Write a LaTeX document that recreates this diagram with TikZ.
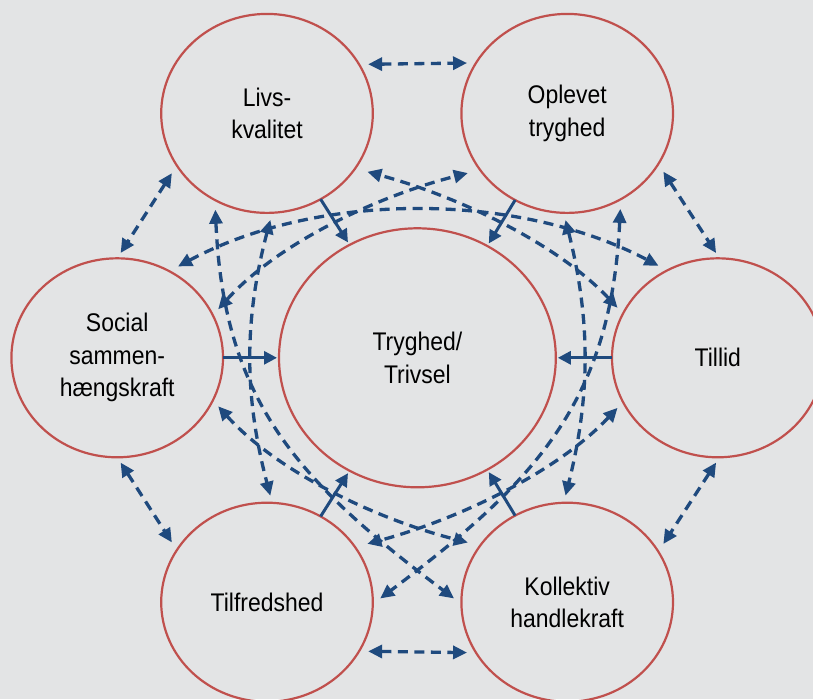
\documentclass[tikz,border=0pt]{standalone}
\usepackage{fontspec}
\newfontfamily\labfont[FakeStretch=0.9]{Liberation Sans}
\usetikzlibrary{arrows.meta,shapes.geometric}
\definecolor{bg}{HTML}{E3E4E5}
\definecolor{cred}{HTML}{C0504D}
\definecolor{cblue}{HTML}{1F4A7E}
\tikzset{
  bubble/.style={ellipse, draw=cred, line width=2.2pt, minimum width=211.6pt, minimum height=199pt,
    inner sep=0pt, outer sep=0pt, align=center, text=black,
    font=\labfont\fontsize{25.5}{32.5}\selectfont},
  bigbubble/.style={bubble, minimum width=276.8pt, minimum height=259pt},
  solidarr/.style={draw=cblue, line width=3pt, >={Triangle[length=13pt,width=13pt]}, ->},
  dd/.style={draw=cblue, line width=3.3pt, dash pattern=on 10pt off 6.5pt,
    >={Triangle[length=14pt,width=13pt]}, <->}
}
\begin{document}
\begin{tikzpicture}[x=1pt,y=-1pt]
\useasboundingbox (0,0) rectangle (813,699);
\fill[bg] (0,0) rectangle (813,699);
\clip (0,0) rectangle (813,699);

\node[bubble] (livs) at (267,113.4) {Livs-\\kvalitet};
\node[bubble] (opl) at (567.2,113.4) {Oplevet\\tryghed};
\node[bubble] (soc) at (117.2,357.8) {Social\\sammen-\\hængskraft};
\node[bubble] (till) at (717.8,357.8) {Tillid};
\node[bubble] (tilf) at (267,602.2) {Tilfredshed};
\node[bubble] (koll) at (567.2,602.2) {Kollektiv\\handlekraft};
\node[bigbubble] (ctr) at (417.4,357.8) {Tryghed/\\Trivsel};

% adjacent pairs
\draw[dd, shorten <=9pt, shorten >=9pt] (livs.28.5) -- (opl.151.5);
\draw[dd, shorten <=9pt, shorten >=9pt] (tilf.-28.5) -- (koll.-151.5);
\draw[dd, shorten <=9.2pt, shorten >=6.3pt] (livs.-150.9) -- (soc.90.3);
\draw[dd, shorten <=9.2pt, shorten >=6.3pt] (opl.-29.1) -- (till.89.7);
\draw[dd, shorten <=6.3pt, shorten >=9.2pt] (soc.-90.3) -- (tilf.150.9);
\draw[dd, shorten <=6.3pt, shorten >=9.2pt] (till.-89.7) -- (koll.29.1);

% crossing connectors
\draw[dd, shorten <=10pt, shorten >=10pt] (soc.59.6) .. controls (318,191.3) and (516.6,191.3) .. (till.120.4);
\draw[dd, shorten <=8pt, shorten >=12.7pt] (soc.24.2) .. controls (278,243) and (377,196.3) .. (opl.-147.9);
\draw[dd, shorten <=8pt, shorten >=12.7pt] (till.155.8) .. controls (556.6,243) and (457.6,196.3) .. (livs.-32.1);
\draw[dd, shorten <=8pt, shorten >=12.7pt] (soc.-24.2) .. controls (278,472.6) and (377,519.3) .. (koll.147.9);
\draw[dd, shorten <=8pt, shorten >=12.7pt] (till.-155.8) .. controls (556.6,472.6) and (457.6,519.3) .. (tilf.32.1);
\draw[dd, shorten <=7.4pt, shorten >=7.4pt] (livs.-87.1) .. controls (244,320) and (244,395.6) .. (tilf.87.1);
\draw[dd, shorten <=7.4pt, shorten >=7.4pt] (opl.-92.9) .. controls (590.6,320) and (590.6,395.6) .. (koll.92.9);
\draw[dd, shorten <=9.7pt, shorten >=9.3pt] (livs.-121.9) .. controls (223.7,403) and (300.3,482.7) .. (koll.181);
\draw[dd, shorten <=9.7pt, shorten >=9.3pt] (opl.-58.1) .. controls (610.9,403) and (534.3,482.7) .. (tilf.-1);

% solid arrows to centre
\draw[solidarr, shorten >=3pt] (livs.-58.5) -- (ctr.121.3);
\draw[solidarr, shorten >=3pt] (opl.-121.5) -- (ctr.58.7);
\draw[solidarr, shorten >=2pt] (soc.0) -- (ctr.180);
\draw[solidarr, shorten >=2pt] (till.180) -- (ctr.0);
\draw[solidarr, shorten >=3pt] (tilf.58.5) -- (ctr.-121.3);
\draw[solidarr, shorten >=3pt] (koll.121.5) -- (ctr.-58.7);
\end{tikzpicture}
\end{document}
